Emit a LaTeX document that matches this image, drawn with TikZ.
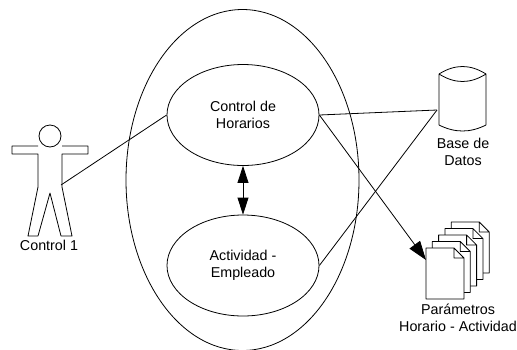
\documentclass[tikz,border=0pt]{standalone}
\usepackage{fontspec}
\setmainfont{Liberation Sans}
\usetikzlibrary{shapes.geometric,arrows.meta}
\tikzset{
    line/.style={line width=0.8pt,line join=round},
    usecase/.style={draw,ellipse,line width=0.8pt,inner sep=0pt,minimum width=152pt,minimum height=101pt,align=center},
    label/.style={font=\fontsize{14.3}{17}\selectfont,align=center,inner sep=0pt},
    bighead/.style={-{Triangle[length=19pt,width=13pt]}},
}
\begin{document}
\begin{tikzpicture}[x=1pt,y=-1pt]
    \useasboundingbox (0,0) rectangle (517,349);

    % System boundary
    \node[draw,ellipse,line width=0.8pt,inner sep=0pt,minimum width=233pt,minimum height=341pt] (sistema) at (242.5,180) {};

    % Use cases
    \node[usecase,label] (horarios) at (243,115) {Control de\\Horarios};
    \node[usecase,label] (actividad) at (243,265.5) {Actividad -\\Empleado};

    % Actor
    \draw[line] (50,136) circle (11);
    \draw[line] (38,146) -- (12,146) -- (12,154) -- (38,154) -- (38,187) -- (28,236) -- (38,236)
        -- (50,193) -- (61,236) -- (72,236) -- (62,187) -- (62,154) -- (88,154) -- (88,146) -- (62,146);
    \coordinate (cadera) at (61,185);
    \node[label] (control) at (49,245) {Control 1};

    % Database
    \draw[line] (439,74) .. controls (455,64) and (470,64) .. (486,74)
        .. controls (470,84) and (455,84) .. (439,74) -- (439,125)
        .. controls (455,133) and (470,133) .. (486,125) -- (486,74);
    \coordinate (base) at (437,110);
    \node[label] (datos) at (463,152) {Base de\\Datos};

    % Documents
    \foreach \i in {4,3,2,1,0}
        \draw[line,fill=white,shift={(6.3*\i,-6.5*\i)}] (426,299) -- (426,248) -- (454,248) -- (464,258) -- (464,299) -- cycle
            (454,248) -- (454,258) -- (464,258);
    \coordinate (docs) at (426,260);
    \node[label] (parametros) at (458,318) {Parámetros\\Horario - Actividad};

    % Connectors
    \draw[line] (cadera) -- (horarios.west);
    \draw[line] (horarios.east) -- (base);
    \draw[line] (actividad.east) -- (base);
    \draw[line,bighead] (horarios.east) -- (docs);
    \draw[line,{Triangle[length=17pt,width=11pt]}-{Triangle[length=17pt,width=11pt]}] (horarios.south) -- (actividad.north);
\end{tikzpicture}
\end{document}
